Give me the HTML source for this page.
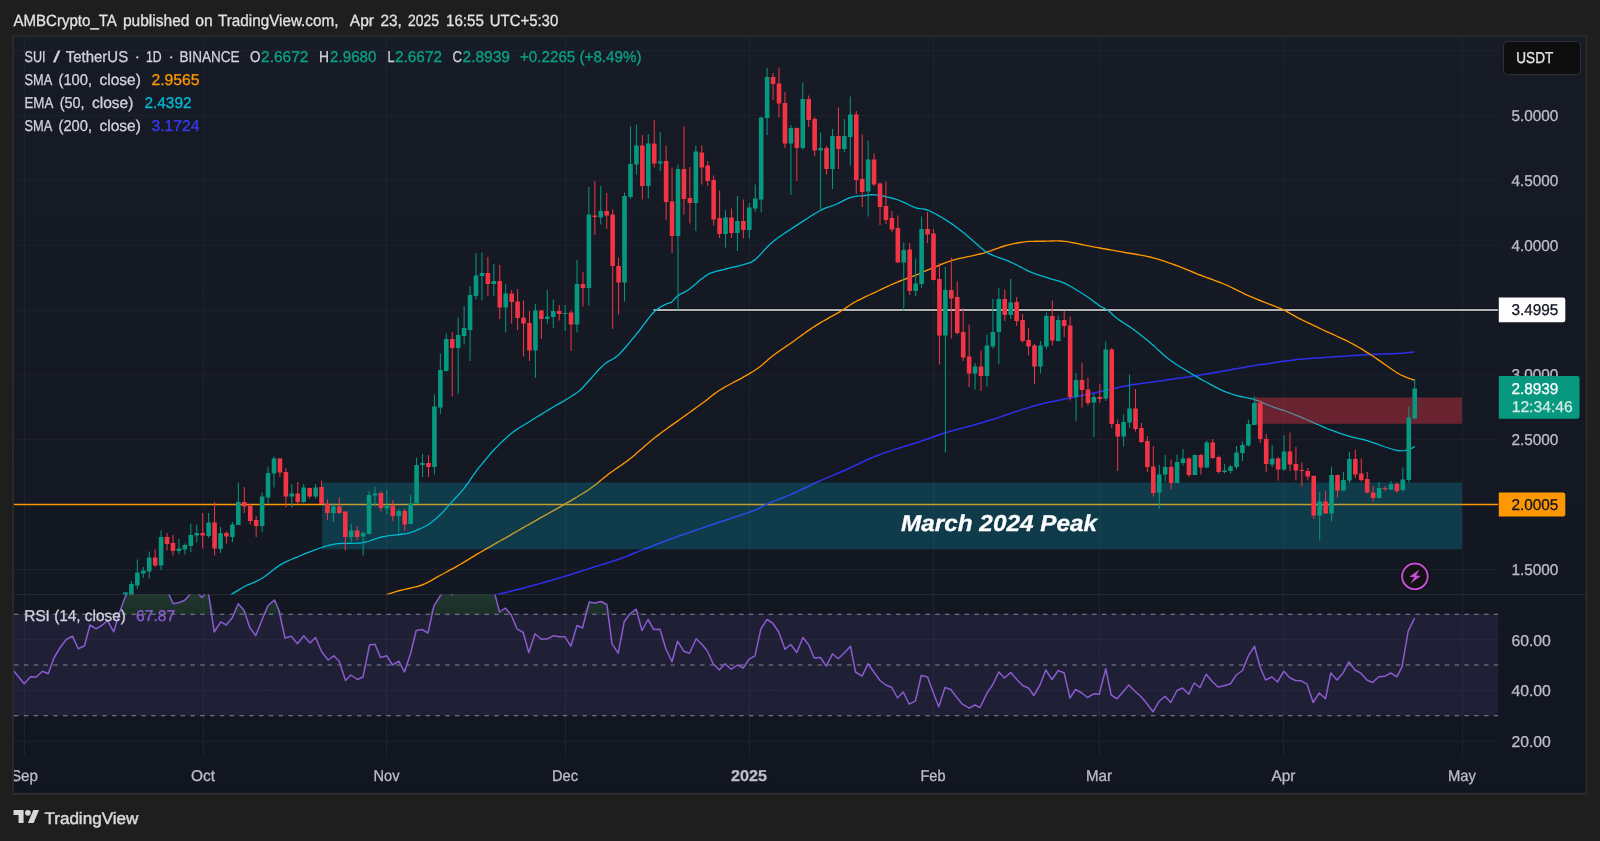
<!DOCTYPE html><html><head><meta charset="utf-8"><title>SUI chart</title><style>html,body{margin:0;padding:0;background:#1e1e1e}body{width:1600px;height:841px;overflow:hidden}</style></head><body><svg width="1600" height="841" viewBox="0 0 1600 841" style="display:block;font-family:'Liberation Sans',sans-serif">
<style>text{stroke-width:0.3px;paint-order:stroke;text-rendering:geometricPrecision;filter:url(#nf)}</style><defs><filter id="nf" x="-5%" y="-50%" width="110%" height="200%"><feOffset dx="0" dy="0"/></filter></defs>
<rect width="1600" height="841" fill="#1e1e1e"/>
<g opacity="0.999">
<defs><linearGradient id="bgg" x1="0" y1="0" x2="0" y2="1"><stop offset="0" stop-color="#181c27"/><stop offset="1" stop-color="#131722"/></linearGradient></defs>
<rect x="12.1" y="35.3" width="1575.3000000000002" height="759.7" fill="#2b2b2e"/>
<rect x="14" y="37.1" width="1571.6" height="755.6999999999999" fill="url(#bgg)"/>
<defs>
<clipPath id="cm"><rect x="14" y="37.1" width="1484" height="557.4"/></clipPath>
<clipPath id="cr"><rect x="14" y="594.5" width="1484" height="161.5"/></clipPath>
<linearGradient id="og" x1="0" y1="0" x2="0" y2="1"><stop offset="0" stop-color="#4caf50" stop-opacity="0.27"/><stop offset="1" stop-color="#4caf50" stop-opacity="0.15"/></linearGradient>
</defs>
<path d="M24.5 37.1V756.3M203.5 37.1V756.3M386.5 37.1V756.3M565.5 37.1V756.3M749.5 37.1V756.3M933.5 37.1V756.3M1099.5 37.1V756.3M1283.5 37.1V756.3M1462.5 37.1V756.3M14 50.5H1498M14 115.4H1498M14 180.3H1498M14 245.1H1498M14 310H1498M14 374.9H1498M14 439.7H1498M14 504.6H1498M14 569.5H1498M14 639.6H1498M14 690.4H1498M14 741.3H1498" stroke="#1f232f" stroke-width="1" fill="none"/>
<path d="M14 594.5H1585.6" stroke="#262a36" stroke-width="1"/>
<g clip-path="url(#cm)">
<path d="M14 504.5H1498" stroke="#ff9800" stroke-width="1.3"/>
<path d="M653.5 310H1498" stroke="#000" stroke-width="3" opacity="0.7"/>
<path d="M653.5 310H1498" stroke="#f0f0f0" stroke-width="1.5"/>
<polyline points="497.5,594.5 499.2,594.1 501.4,593.5 504.0,592.9 506.8,592.2 509.9,591.4 513.2,590.6 516.6,589.8 520.1,588.9 523.5,588.0 526.8,587.1 530.0,586.3 532.9,585.5 535.8,584.7 538.8,583.9 541.8,583.1 544.8,582.2 547.8,581.3 550.8,580.5 553.8,579.6 556.7,578.8 559.6,577.9 562.3,577.1 565.0,576.3 568.4,575.3 571.6,574.3 574.7,573.3 577.7,572.3 580.7,571.3 583.6,570.4 586.5,569.4 589.5,568.5 592.5,567.5 595.6,566.5 598.7,565.6 601.8,564.6 604.9,563.7 607.9,562.8 611.0,561.8 614.1,560.8 617.1,559.8 620.0,558.8 623.2,557.6 626.3,556.4 629.3,555.2 632.3,554.0 635.4,552.7 638.5,551.4 641.7,550.1 645.0,548.8 647.8,547.7 650.7,546.6 653.6,545.5 656.6,544.3 659.7,543.2 662.8,542.0 665.8,540.9 668.9,539.7 672.0,538.6 675.0,537.5 678.0,536.4 681.1,535.3 684.2,534.2 687.2,533.1 690.3,532.1 693.4,531.0 696.4,530.0 699.3,528.9 702.2,528.0 705.0,527.0 708.4,525.9 711.6,524.8 714.7,523.8 717.8,522.8 720.8,521.8 723.9,520.8 726.9,519.8 730.0,518.8 733.2,517.7 736.5,516.6 739.9,515.4 743.3,514.3 746.5,513.1 749.6,512.0 752.5,511.0 755.0,510.0 758.7,508.4 761.2,507.0 763.8,505.6 767.5,503.8 770.0,502.7 772.9,501.6 776.1,500.4 779.4,499.1 782.8,497.8 786.1,496.4 789.4,495.1 792.5,493.8 795.4,492.5 798.2,491.2 800.9,489.8 803.6,488.5 806.3,487.2 809.1,485.8 812.0,484.4 815.0,483.0 817.8,481.8 820.6,480.6 823.4,479.4 826.3,478.1 829.3,476.9 832.4,475.6 835.6,474.3 839.0,472.8 842.5,471.3 845.1,470.2 847.7,469.0 850.4,467.7 853.2,466.4 856.1,465.0 859.0,463.7 862.0,462.3 864.9,460.9 867.9,459.5 871.0,458.2 874.0,456.9 877.0,455.7 880.0,454.5 882.8,453.4 885.7,452.4 888.7,451.4 891.7,450.4 894.7,449.4 897.8,448.5 900.8,447.5 903.8,446.6 906.7,445.7 909.6,444.9 912.4,444.0 915.1,443.2 917.6,442.4 920.0,441.6 923.7,440.3 926.8,439.2 929.6,438.2 932.2,437.2 934.9,436.3 937.7,435.3 940.9,434.2 944.7,433.0 947.2,432.3 949.7,431.5 952.4,430.8 955.3,430.0 958.2,429.2 961.2,428.4 964.2,427.6 967.4,426.7 970.5,425.9 973.7,425.0 976.9,424.1 980.2,423.2 983.4,422.3 986.6,421.3 989.4,420.4 992.3,419.5 995.3,418.6 998.3,417.6 1001.3,416.6 1004.4,415.5 1007.5,414.5 1010.5,413.5 1013.6,412.4 1016.7,411.4 1019.7,410.4 1022.7,409.4 1025.6,408.5 1028.5,407.6 1031.3,406.8 1034.0,406.0 1037.5,405.0 1041.0,404.2 1044.4,403.3 1047.7,402.6 1051.0,401.8 1054.2,401.2 1057.3,400.5 1060.4,399.9 1063.4,399.3 1066.3,398.7 1069.2,398.1 1072.0,397.5 1075.6,396.7 1079.0,396.0 1082.3,395.3 1085.4,394.7 1088.5,394.0 1091.5,393.4 1094.5,392.8 1097.6,392.2 1100.7,391.5 1103.9,390.8 1107.0,390.1 1110.1,389.4 1113.3,388.6 1116.4,387.9 1119.5,387.2 1122.7,386.5 1125.8,385.9 1129.0,385.3 1132.1,384.8 1135.2,384.3 1138.3,383.9 1141.3,383.5 1144.4,383.1 1147.6,382.7 1150.8,382.2 1154.2,381.8 1157.8,381.3 1160.6,380.9 1163.6,380.5 1166.7,380.0 1169.8,379.6 1173.1,379.1 1176.3,378.6 1179.6,378.1 1182.8,377.7 1186.0,377.2 1189.1,376.7 1192.1,376.2 1195.0,375.8 1198.3,375.3 1201.5,374.8 1204.7,374.2 1207.8,373.7 1210.8,373.2 1213.7,372.7 1216.6,372.2 1219.4,371.8 1222.2,371.3 1225.0,370.8 1228.4,370.2 1231.6,369.6 1234.7,369.0 1237.8,368.5 1240.8,367.9 1243.9,367.4 1246.9,366.8 1250.0,366.3 1253.1,365.8 1256.2,365.3 1259.4,364.8 1262.5,364.3 1265.6,363.9 1268.8,363.4 1271.9,362.9 1275.0,362.5 1278.1,362.1 1281.2,361.6 1284.4,361.2 1287.5,360.8 1290.6,360.4 1293.8,360.0 1296.9,359.6 1300.0,359.3 1303.1,359.0 1306.2,358.7 1309.4,358.5 1312.5,358.3 1315.6,358.1 1318.8,357.9 1321.9,357.7 1325.0,357.5 1328.1,357.3 1331.2,357.1 1334.4,356.8 1337.5,356.6 1340.6,356.4 1343.8,356.2 1346.9,356.0 1350.0,355.8 1353.1,355.6 1356.2,355.4 1359.4,355.2 1362.5,355.0 1365.6,354.8 1368.8,354.6 1371.9,354.5 1375.0,354.3 1378.2,354.2 1381.5,354.0 1384.9,353.9 1388.2,353.8 1391.4,353.7 1394.5,353.6 1397.4,353.4 1400.0,353.3 1404.6,353.0 1408.5,352.6 1411.6,352.2 1413.8,352.0" fill="none" stroke="#3030f0" stroke-width="1.5" stroke-linejoin="round" stroke-linecap="round"/>
<polyline points="387.0,594.5 389.1,593.8 392.1,592.8 395.8,591.7 400.0,590.5 402.7,589.8 405.7,589.2 409.0,588.5 412.4,587.7 415.7,586.9 419.0,586.0 422.0,585.0 425.2,583.7 428.2,582.2 431.1,580.6 434.0,578.9 436.9,577.2 440.0,575.5 442.8,574.0 445.6,572.5 448.4,570.9 451.3,569.4 454.2,567.8 457.1,566.1 460.0,564.5 462.9,562.8 465.7,561.1 468.6,559.4 471.4,557.7 474.3,555.9 477.1,554.2 480.0,552.5 482.8,550.9 485.4,549.3 488.0,547.8 490.7,546.3 493.6,544.7 496.6,542.9 500.0,541.0 502.3,539.7 504.8,538.3 507.3,536.8 510.0,535.3 512.7,533.7 515.5,532.1 518.3,530.5 521.2,528.8 524.1,527.2 527.0,525.5 530.0,523.8 532.6,522.3 535.2,520.9 537.9,519.3 540.7,517.7 543.6,516.2 546.4,514.6 549.2,513.0 552.0,511.4 554.8,509.8 557.5,508.3 560.1,506.8 562.6,505.4 565.0,504.0 568.2,502.1 571.3,500.3 574.3,498.6 577.1,497.0 579.8,495.3 582.4,493.7 585.0,492.1 587.5,490.5 590.0,488.8 592.7,486.8 595.4,484.9 597.9,482.8 600.3,480.8 602.7,478.8 605.1,476.9 607.5,474.9 610.0,473.0 612.5,471.2 614.9,469.5 617.3,467.9 619.7,466.2 622.1,464.6 624.6,462.8 627.3,460.9 630.0,458.8 632.3,456.9 634.7,454.9 637.1,452.8 639.6,450.6 642.2,448.4 644.8,446.1 647.3,443.9 649.9,441.7 652.5,439.5 655.0,437.5 657.5,435.6 660.0,433.7 662.5,431.8 665.0,430.0 667.5,428.2 670.0,426.4 672.5,424.6 675.0,422.9 677.5,421.1 680.0,419.3 682.5,417.5 685.2,415.6 687.8,413.7 690.5,411.8 693.1,409.9 695.7,408.0 698.2,406.2 700.6,404.5 702.9,402.8 705.0,401.3 707.9,399.1 710.0,397.3 711.9,395.7 714.0,394.1 716.5,392.3 720.0,390.0 722.0,388.8 724.3,387.4 726.9,386.0 729.6,384.5 732.4,383.0 735.3,381.4 738.3,379.9 741.2,378.3 744.1,376.7 746.9,375.1 749.5,373.6 751.9,372.2 754.1,370.8 757.2,368.7 759.9,366.7 762.4,364.7 764.6,362.8 766.7,360.9 768.8,359.1 770.9,357.3 773.2,355.5 775.9,353.5 778.5,351.6 781.2,349.8 783.8,348.0 786.5,346.1 789.3,344.2 792.2,342.2 794.6,340.5 797.0,338.8 799.4,337.0 802.0,335.1 804.5,333.3 807.1,331.4 809.7,329.6 812.4,327.8 815.0,326.1 817.7,324.4 820.5,322.7 823.4,321.0 826.4,319.4 829.3,317.7 832.1,316.2 834.8,314.6 837.4,313.2 839.7,311.8 842.7,309.9 845.2,308.2 847.5,306.7 849.7,305.2 852.1,303.7 855.0,302.0 857.5,300.7 860.3,299.3 863.2,297.9 866.2,296.4 869.2,295.0 872.2,293.6 875.1,292.3 877.8,291.0 881.2,289.4 884.4,287.9 887.5,286.4 890.6,285.0 893.7,283.6 896.8,282.3 900.1,281.0 903.5,279.7 906.9,278.5 910.1,277.3 913.2,276.2 915.8,275.2 919.1,273.8 921.4,272.6 925.6,270.8 927.8,269.9 930.5,268.8 933.4,267.6 936.6,266.3 939.8,265.0 943.1,263.7 946.3,262.4 949.4,261.3 952.2,260.4 955.6,259.4 958.8,258.6 962.0,257.9 965.0,257.3 967.9,256.7 970.7,256.2 973.2,255.6 976.9,254.7 979.9,254.0 982.8,253.3 986.5,252.2 989.1,251.3 992.0,250.3 995.0,249.2 998.2,248.1 1001.3,247.0 1004.4,246.0 1007.4,245.1 1010.7,244.3 1013.9,243.6 1017.0,243.0 1020.2,242.5 1023.3,242.1 1026.4,241.7 1029.5,241.4 1032.6,241.3 1035.7,241.2 1038.7,241.2 1041.9,241.2 1045.0,241.2 1048.2,241.1 1051.3,241.0 1054.5,240.9 1057.7,240.9 1061.0,241.0 1064.5,241.3 1067.7,241.7 1071.1,242.3 1074.6,243.0 1078.1,243.7 1081.4,244.5 1084.5,245.1 1087.3,245.7 1090.9,246.4 1093.5,246.8 1096.2,247.3 1100.0,248.0 1102.5,248.5 1105.4,249.0 1108.5,249.5 1111.7,250.1 1115.1,250.7 1118.5,251.3 1121.8,251.9 1125.0,252.5 1128.1,253.0 1131.2,253.5 1134.4,254.0 1137.5,254.5 1140.6,255.1 1143.8,255.6 1146.9,256.3 1150.0,257.0 1153.1,257.8 1156.2,258.7 1159.4,259.7 1162.5,260.7 1165.6,261.7 1168.8,262.8 1171.9,263.9 1175.0,265.0 1178.1,266.2 1181.2,267.4 1184.4,268.6 1187.5,269.9 1190.6,271.2 1193.8,272.5 1196.9,273.8 1200.0,275.0 1203.1,276.2 1206.2,277.4 1209.4,278.5 1212.5,279.6 1215.6,280.8 1218.8,282.0 1221.9,283.2 1225.0,284.5 1227.8,285.7 1230.6,287.0 1233.3,288.3 1236.1,289.7 1238.9,291.1 1241.7,292.4 1244.4,293.8 1247.2,295.1 1250.0,296.3 1253.2,297.7 1256.6,299.1 1260.1,300.5 1263.5,301.8 1266.8,303.1 1269.9,304.3 1272.7,305.4 1275.0,306.3 1278.9,307.8 1280.9,308.6 1283.8,310.0 1286.0,311.1 1288.3,312.4 1290.9,313.9 1293.7,315.4 1296.7,317.1 1300.0,318.8 1302.4,320.0 1305.0,321.3 1307.7,322.6 1310.5,323.9 1313.4,325.3 1316.3,326.7 1319.3,328.1 1322.2,329.5 1325.0,330.8 1327.8,332.1 1330.7,333.4 1333.5,334.7 1336.4,336.0 1339.2,337.3 1342.0,338.6 1344.8,339.9 1347.4,341.2 1350.0,342.5 1353.1,344.2 1356.2,345.9 1359.1,347.5 1361.9,349.2 1364.6,350.9 1367.3,352.6 1370.0,354.3 1372.7,356.0 1375.3,357.8 1377.9,359.6 1380.5,361.4 1382.9,363.1 1385.3,364.8 1387.5,366.3 1390.9,368.7 1394.0,370.8 1396.9,372.7 1400.0,374.5 1403.7,376.2 1407.7,377.8 1411.3,379.1 1413.8,380.0" fill="none" stroke="#ff9800" stroke-width="1.35" stroke-linejoin="round" stroke-linecap="round"/>
<polyline points="231.3,594.5 233.0,593.4 235.5,591.9 238.4,590.1 241.5,588.2 244.6,586.5 247.2,585.2 249.9,584.1 252.8,582.9 255.7,581.6 258.7,580.2 261.7,578.5 264.3,576.8 267.0,574.8 269.7,572.7 272.5,570.5 275.2,568.4 278.0,566.4 280.7,564.6 283.8,562.9 286.9,561.3 290.0,560.0 293.2,558.7 296.4,557.4 299.7,556.0 302.7,554.7 305.9,553.4 309.2,552.1 312.5,550.8 315.7,549.6 318.7,548.5 321.6,547.5 325.1,546.4 328.1,545.5 331.0,544.8 334.1,544.2 337.8,543.7 340.5,543.5 343.5,543.4 346.7,543.3 350.0,543.3 353.3,543.3 356.5,543.2 359.6,543.0 362.5,542.7 366.0,542.0 369.3,541.0 372.4,539.9 375.5,538.8 378.5,537.8 381.5,537.0 385.2,536.3 388.9,535.7 392.5,535.3 395.9,534.9 399.0,534.5 403.0,534.0 406.4,533.6 410.4,532.6 413.0,531.7 415.8,530.6 418.9,529.4 421.9,528.0 424.9,526.5 427.6,525.0 430.6,523.0 433.4,520.8 436.1,518.5 438.6,516.2 440.9,514.1 443.2,511.8 445.1,509.7 447.0,507.4 449.4,504.6 451.2,502.7 453.1,500.6 455.3,498.3 457.5,495.9 459.7,493.5 461.8,491.1 463.7,488.8 465.8,486.0 468.0,483.1 470.0,480.2 471.9,477.4 473.6,474.9 475.1,472.8 477.3,469.6 480.0,466.3 481.6,464.4 483.5,462.1 485.6,459.5 487.9,456.8 490.2,454.0 492.6,451.3 495.0,448.8 497.4,446.4 499.8,443.9 502.3,441.5 504.9,439.1 507.4,436.8 510.0,434.6 512.5,432.5 515.4,430.4 518.2,428.5 521.0,426.7 523.9,425.0 526.9,423.2 530.0,421.3 532.5,419.7 535.2,418.0 538.0,416.3 540.8,414.6 543.6,412.8 546.3,411.2 548.9,409.6 551.2,408.2 554.5,406.3 557.4,404.6 560.1,403.1 562.8,401.6 565.5,400.0 568.4,398.2 571.4,396.3 574.4,394.4 577.2,392.5 579.7,390.5 582.3,388.1 584.4,385.8 586.6,383.3 589.3,380.3 591.2,378.2 593.3,375.9 595.5,373.4 597.8,370.8 600.1,368.3 602.4,366.1 604.5,364.1 607.2,362.1 609.7,360.7 612.2,359.5 614.8,357.9 617.8,355.5 619.7,353.7 621.7,351.5 623.8,349.2 626.0,346.7 628.2,344.1 630.4,341.4 632.6,338.7 634.8,336.2 636.8,333.7 639.0,331.0 641.2,328.1 643.4,325.2 645.5,322.4 647.5,319.6 649.5,317.1 651.5,314.7 653.3,312.7 656.1,310.1 658.9,308.1 661.4,306.5 663.7,305.3 665.7,304.2 668.9,303.1 671.4,302.3 673.4,300.4 675.4,298.0 678.0,295.6 680.4,294.1 683.0,292.8 686.1,291.2 689.5,289.0 691.7,287.3 694.2,285.2 696.8,283.0 699.4,280.6 702.2,278.4 704.9,276.4 707.5,274.7 710.5,273.2 713.6,272.1 716.6,271.2 719.6,270.5 722.6,269.8 725.6,269.0 729.2,268.1 732.8,267.2 736.3,266.5 739.6,265.7 742.7,264.8 745.9,263.9 748.6,263.2 751.4,262.1 754.7,259.9 756.7,258.2 758.7,256.2 760.9,253.9 763.2,251.4 765.5,248.9 768.0,246.3 770.6,243.8 773.2,241.5 775.7,239.5 778.3,237.6 781.0,235.7 783.8,233.7 786.7,231.9 789.5,230.0 792.3,228.2 795.1,226.4 797.8,224.6 800.8,222.6 803.8,220.6 806.8,218.7 809.8,216.8 812.7,214.9 815.5,213.2 818.1,211.7 820.6,210.3 824.1,208.6 827.3,207.4 830.1,206.5 832.9,205.6 835.8,204.5 838.7,203.1 841.7,201.6 844.5,200.1 847.4,198.7 850.3,197.6 854.0,196.7 857.6,196.2 861.2,195.8 864.6,195.5 868.4,195.0 871.9,194.7 876.0,194.8 879.2,195.3 882.9,196.0 886.7,196.8 890.3,197.7 893.3,198.5 896.8,199.5 899.5,200.5 902.6,201.8 905.7,203.2 909.2,205.0 912.8,206.7 916.1,208.0 919.8,208.7 923.2,208.9 927.5,210.0 929.8,211.0 932.4,212.3 935.2,213.8 938.1,215.4 941.0,217.0 943.8,218.7 946.5,220.4 949.0,222.0 951.4,223.6 953.8,225.3 956.1,227.0 958.5,228.8 961.0,230.7 963.6,232.8 965.8,234.6 968.2,236.7 970.7,238.8 973.2,241.1 975.7,243.3 978.2,245.5 980.5,247.5 982.7,249.3 984.6,250.8 988.0,253.1 990.7,254.4 993.1,255.4 996.0,256.5 998.7,257.6 1001.6,258.6 1004.7,259.7 1007.9,260.9 1011.2,262.3 1013.7,263.5 1016.4,264.8 1019.1,266.3 1021.9,267.7 1024.7,269.2 1027.5,270.6 1030.2,271.8 1033.4,273.1 1036.7,274.3 1039.9,275.4 1043.1,276.4 1046.2,277.4 1049.2,278.4 1052.4,279.4 1055.3,280.1 1058.2,280.8 1061.1,281.8 1064.5,283.2 1066.9,284.4 1069.5,285.8 1072.2,287.3 1075.0,289.0 1077.7,290.7 1080.4,292.3 1083.0,294.0 1085.4,295.5 1088.4,297.5 1091.2,299.5 1093.9,301.6 1096.4,303.4 1098.7,305.1 1100.7,306.5 1104.4,308.4 1107.5,310.0 1109.7,311.8 1112.0,314.0 1114.6,316.4 1117.5,318.8 1119.7,320.4 1122.0,321.9 1124.5,323.5 1127.1,325.1 1129.8,326.9 1132.5,328.8 1134.8,330.5 1137.2,332.3 1139.7,334.2 1142.2,336.2 1144.7,338.2 1147.3,340.3 1150.0,342.5 1152.3,344.5 1154.7,346.6 1157.1,348.9 1159.5,351.1 1162.0,353.4 1164.6,355.7 1167.2,357.9 1170.0,360.0 1172.6,361.8 1175.2,363.7 1178.0,365.5 1180.8,367.3 1183.6,369.0 1186.5,370.8 1189.3,372.5 1192.2,374.2 1195.0,375.8 1197.8,377.4 1200.7,379.1 1203.6,380.7 1206.6,382.3 1209.4,383.9 1212.3,385.4 1215.0,386.8 1217.6,388.1 1220.0,389.3 1223.3,390.8 1226.3,392.1 1229.0,393.1 1231.6,394.0 1234.3,394.9 1237.0,395.7 1240.4,396.5 1243.8,397.2 1247.2,397.8 1250.6,398.4 1254.0,399.3 1256.8,400.3 1259.7,401.4 1262.5,402.6 1265.3,403.8 1268.2,405.0 1271.2,406.2 1274.2,407.3 1277.2,408.3 1280.2,409.3 1283.4,410.3 1286.7,411.5 1290.2,412.8 1293.1,414.0 1296.3,415.3 1299.6,416.7 1303.0,418.1 1306.3,419.5 1309.5,420.9 1312.4,422.2 1315.0,423.3 1319.0,425.0 1322.0,426.4 1324.8,427.6 1328.3,429.0 1331.1,430.1 1334.2,431.2 1337.4,432.4 1340.8,433.6 1344.1,434.7 1347.3,435.7 1350.5,436.6 1353.6,437.3 1356.8,438.1 1360.0,438.8 1363.1,439.5 1366.3,440.4 1369.5,441.4 1372.8,442.6 1376.1,443.7 1379.3,444.9 1382.4,446.0 1385.3,447.0 1388.6,448.0 1391.8,449.0 1394.8,449.9 1397.5,450.5 1400.0,450.9 1405.0,450.6 1408.8,449.5 1412.2,448.1 1414.5,446.8" fill="none" stroke="#00bcd4" stroke-width="1.3" stroke-linejoin="round" stroke-linecap="round"/>
<rect x="322" y="482.5" width="1140" height="66.79999999999995" fill="#00bcd4" fill-opacity="0.22"/>
<rect x="1255" y="397.5" width="207" height="26.30000000000001" fill="#f23645" fill-opacity="0.39"/>
<rect x="124.95" y="592.0" width="1" height="4.0" fill="#089981"/>
<rect x="123.15" y="592.5" width="4.6" height="3.5" fill="#089981"/>
<rect x="130.90" y="581.0" width="1" height="15.0" fill="#089981"/>
<rect x="129.10" y="584.0" width="4.6" height="12.0" fill="#089981"/>
<rect x="136.84" y="559.5" width="1" height="29.5" fill="#089981"/>
<rect x="135.04" y="572.5" width="4.6" height="13.0" fill="#089981"/>
<rect x="142.78" y="567.0" width="1" height="11.0" fill="#089981"/>
<rect x="140.98" y="570.5" width="4.6" height="3.0" fill="#089981"/>
<rect x="148.72" y="551.5" width="1" height="27.0" fill="#089981"/>
<rect x="146.92" y="557.5" width="4.6" height="14.0" fill="#089981"/>
<rect x="154.66" y="549.5" width="1" height="17.5" fill="#f23645"/>
<rect x="152.86" y="557.5" width="4.6" height="8.0" fill="#f23645"/>
<rect x="160.60" y="530.5" width="1" height="39.5" fill="#089981"/>
<rect x="158.80" y="537.0" width="4.6" height="28.5" fill="#089981"/>
<rect x="166.54" y="533.0" width="1" height="17.5" fill="#f23645"/>
<rect x="164.74" y="537.0" width="4.6" height="7.0" fill="#f23645"/>
<rect x="172.48" y="535.0" width="1" height="20.5" fill="#f23645"/>
<rect x="170.68" y="543.0" width="4.6" height="8.0" fill="#f23645"/>
<rect x="178.43" y="539.0" width="1" height="15.0" fill="#089981"/>
<rect x="176.63" y="548.5" width="4.6" height="2.5" fill="#089981"/>
<rect x="184.37" y="543.5" width="1" height="11.0" fill="#089981"/>
<rect x="182.57" y="545.0" width="4.6" height="4.5" fill="#089981"/>
<rect x="190.31" y="523.5" width="1" height="28.5" fill="#089981"/>
<rect x="188.51" y="535.0" width="4.6" height="11.0" fill="#089981"/>
<rect x="196.25" y="524.5" width="1" height="18.0" fill="#089981"/>
<rect x="194.45" y="533.0" width="4.6" height="2.5" fill="#089981"/>
<rect x="202.19" y="513.0" width="1" height="35.5" fill="#f23645"/>
<rect x="200.39" y="533.0" width="4.6" height="2.5" fill="#f23645"/>
<rect x="208.13" y="513.0" width="1" height="25.0" fill="#089981"/>
<rect x="206.33" y="522.5" width="4.6" height="13.5" fill="#089981"/>
<rect x="214.07" y="502.0" width="1" height="53.5" fill="#f23645"/>
<rect x="212.27" y="522.5" width="4.6" height="26.0" fill="#f23645"/>
<rect x="220.02" y="527.0" width="1" height="26.0" fill="#089981"/>
<rect x="218.22" y="533.0" width="4.6" height="16.0" fill="#089981"/>
<rect x="225.96" y="531.5" width="1" height="12.0" fill="#f23645"/>
<rect x="224.16" y="533.0" width="4.6" height="3.5" fill="#f23645"/>
<rect x="231.90" y="522.0" width="1" height="20.0" fill="#089981"/>
<rect x="230.10" y="524.5" width="4.6" height="12.5" fill="#089981"/>
<rect x="237.84" y="482.5" width="1" height="42.5" fill="#089981"/>
<rect x="236.04" y="502.0" width="4.6" height="23.0" fill="#089981"/>
<rect x="243.78" y="487.0" width="1" height="26.0" fill="#f23645"/>
<rect x="241.98" y="502.0" width="4.6" height="4.5" fill="#f23645"/>
<rect x="249.72" y="503.5" width="1" height="21.0" fill="#f23645"/>
<rect x="247.92" y="505.5" width="4.6" height="15.5" fill="#f23645"/>
<rect x="255.66" y="516.0" width="1" height="21.0" fill="#f23645"/>
<rect x="253.86" y="520.0" width="4.6" height="6.0" fill="#f23645"/>
<rect x="261.61" y="492.5" width="1" height="39.5" fill="#089981"/>
<rect x="259.81" y="496.5" width="4.6" height="29.5" fill="#089981"/>
<rect x="267.55" y="466.5" width="1" height="37.0" fill="#089981"/>
<rect x="265.75" y="473.0" width="4.6" height="24.5" fill="#089981"/>
<rect x="273.49" y="456.5" width="1" height="31.0" fill="#089981"/>
<rect x="271.69" y="458.5" width="4.6" height="15.0" fill="#089981"/>
<rect x="279.43" y="458.0" width="1" height="19.0" fill="#f23645"/>
<rect x="277.63" y="458.5" width="4.6" height="14.0" fill="#f23645"/>
<rect x="285.37" y="468.0" width="1" height="39.5" fill="#f23645"/>
<rect x="283.57" y="472.0" width="4.6" height="24.5" fill="#f23645"/>
<rect x="291.31" y="484.0" width="1" height="23.5" fill="#089981"/>
<rect x="289.51" y="493.5" width="4.6" height="3.0" fill="#089981"/>
<rect x="297.25" y="482.0" width="1" height="22.5" fill="#f23645"/>
<rect x="295.45" y="493.5" width="4.6" height="8.5" fill="#f23645"/>
<rect x="303.20" y="484.0" width="1" height="19.0" fill="#089981"/>
<rect x="301.40" y="487.5" width="4.6" height="14.5" fill="#089981"/>
<rect x="309.14" y="487.5" width="1" height="11.0" fill="#f23645"/>
<rect x="307.34" y="488.0" width="4.6" height="8.5" fill="#f23645"/>
<rect x="315.08" y="484.0" width="1" height="14.5" fill="#089981"/>
<rect x="313.28" y="487.5" width="4.6" height="9.0" fill="#089981"/>
<rect x="321.02" y="480.5" width="1" height="23.5" fill="#f23645"/>
<rect x="319.22" y="487.0" width="4.6" height="17.0" fill="#f23645"/>
<rect x="326.96" y="499.5" width="1" height="20.5" fill="#f23645"/>
<rect x="325.16" y="503.5" width="4.6" height="9.5" fill="#f23645"/>
<rect x="332.90" y="503.5" width="1" height="18.5" fill="#089981"/>
<rect x="331.10" y="506.5" width="4.6" height="6.5" fill="#089981"/>
<rect x="338.84" y="497.5" width="1" height="16.5" fill="#f23645"/>
<rect x="337.04" y="506.5" width="4.6" height="6.5" fill="#f23645"/>
<rect x="344.79" y="511.5" width="1" height="39.0" fill="#f23645"/>
<rect x="342.99" y="511.5" width="4.6" height="25.5" fill="#f23645"/>
<rect x="350.73" y="523.5" width="1" height="19.0" fill="#089981"/>
<rect x="348.93" y="530.5" width="4.6" height="6.5" fill="#089981"/>
<rect x="356.67" y="526.0" width="1" height="14.0" fill="#f23645"/>
<rect x="354.87" y="530.5" width="4.6" height="6.5" fill="#f23645"/>
<rect x="362.61" y="531.5" width="1" height="24.0" fill="#089981"/>
<rect x="360.81" y="533.0" width="4.6" height="3.5" fill="#089981"/>
<rect x="368.55" y="491.0" width="1" height="43.0" fill="#089981"/>
<rect x="366.75" y="495.0" width="4.6" height="39.0" fill="#089981"/>
<rect x="374.49" y="486.5" width="1" height="20.0" fill="#089981"/>
<rect x="372.69" y="493.5" width="4.6" height="2.0" fill="#089981"/>
<rect x="380.43" y="491.5" width="1" height="20.0" fill="#f23645"/>
<rect x="378.63" y="493.0" width="4.6" height="15.0" fill="#f23645"/>
<rect x="386.38" y="490.0" width="1" height="24.5" fill="#089981"/>
<rect x="384.58" y="505.5" width="4.6" height="3.0" fill="#089981"/>
<rect x="392.32" y="500.0" width="1" height="21.0" fill="#f23645"/>
<rect x="390.52" y="505.5" width="4.6" height="10.5" fill="#f23645"/>
<rect x="398.26" y="508.5" width="1" height="24.0" fill="#089981"/>
<rect x="396.46" y="511.0" width="4.6" height="5.0" fill="#089981"/>
<rect x="404.20" y="508.5" width="1" height="22.5" fill="#f23645"/>
<rect x="402.40" y="511.0" width="4.6" height="13.5" fill="#f23645"/>
<rect x="410.14" y="495.0" width="1" height="29.0" fill="#089981"/>
<rect x="408.34" y="503.5" width="4.6" height="20.5" fill="#089981"/>
<rect x="416.08" y="457.5" width="1" height="46.0" fill="#089981"/>
<rect x="414.28" y="465.0" width="4.6" height="38.5" fill="#089981"/>
<rect x="422.02" y="454.0" width="1" height="23.0" fill="#089981"/>
<rect x="420.22" y="463.0" width="4.6" height="2.0" fill="#089981"/>
<rect x="427.97" y="455.0" width="1" height="22.0" fill="#f23645"/>
<rect x="426.17" y="463.0" width="4.6" height="4.0" fill="#f23645"/>
<rect x="433.91" y="394.5" width="1" height="80.0" fill="#089981"/>
<rect x="432.11" y="406.5" width="4.6" height="60.5" fill="#089981"/>
<rect x="439.85" y="353.5" width="1" height="60.5" fill="#089981"/>
<rect x="438.05" y="370.0" width="4.6" height="37.5" fill="#089981"/>
<rect x="445.79" y="333.5" width="1" height="38.0" fill="#089981"/>
<rect x="443.99" y="339.0" width="4.6" height="32.0" fill="#089981"/>
<rect x="451.73" y="332.0" width="1" height="64.5" fill="#f23645"/>
<rect x="449.93" y="339.0" width="4.6" height="9.0" fill="#f23645"/>
<rect x="457.67" y="317.5" width="1" height="76.5" fill="#089981"/>
<rect x="455.87" y="335.0" width="4.6" height="13.0" fill="#089981"/>
<rect x="463.61" y="306.0" width="1" height="38.5" fill="#089981"/>
<rect x="461.81" y="328.0" width="4.6" height="8.0" fill="#089981"/>
<rect x="469.55" y="286.0" width="1" height="75.0" fill="#089981"/>
<rect x="467.75" y="295.0" width="4.6" height="35.0" fill="#089981"/>
<rect x="475.50" y="253.0" width="1" height="46.5" fill="#089981"/>
<rect x="473.70" y="275.5" width="4.6" height="20.5" fill="#089981"/>
<rect x="481.44" y="252.5" width="1" height="48.0" fill="#089981"/>
<rect x="479.64" y="273.0" width="4.6" height="3.0" fill="#089981"/>
<rect x="487.38" y="257.0" width="1" height="39.0" fill="#f23645"/>
<rect x="485.58" y="273.0" width="4.6" height="11.0" fill="#f23645"/>
<rect x="493.32" y="264.0" width="1" height="32.0" fill="#089981"/>
<rect x="491.52" y="281.0" width="4.6" height="3.0" fill="#089981"/>
<rect x="499.26" y="265.0" width="1" height="54.0" fill="#f23645"/>
<rect x="497.46" y="281.0" width="4.6" height="26.5" fill="#f23645"/>
<rect x="505.20" y="284.0" width="1" height="48.5" fill="#089981"/>
<rect x="503.40" y="293.5" width="4.6" height="14.0" fill="#089981"/>
<rect x="511.14" y="290.0" width="1" height="33.5" fill="#f23645"/>
<rect x="509.34" y="293.5" width="4.6" height="8.5" fill="#f23645"/>
<rect x="517.09" y="289.0" width="1" height="41.0" fill="#f23645"/>
<rect x="515.29" y="301.5" width="4.6" height="16.5" fill="#f23645"/>
<rect x="523.03" y="300.5" width="1" height="56.0" fill="#f23645"/>
<rect x="521.23" y="317.5" width="4.6" height="6.0" fill="#f23645"/>
<rect x="528.97" y="311.0" width="1" height="50.0" fill="#f23645"/>
<rect x="527.17" y="323.0" width="4.6" height="27.5" fill="#f23645"/>
<rect x="534.91" y="304.0" width="1" height="74.0" fill="#089981"/>
<rect x="533.11" y="310.5" width="4.6" height="40.0" fill="#089981"/>
<rect x="540.85" y="310.0" width="1" height="29.0" fill="#f23645"/>
<rect x="539.05" y="310.5" width="4.6" height="8.5" fill="#f23645"/>
<rect x="546.79" y="290.0" width="1" height="33.5" fill="#089981"/>
<rect x="544.99" y="316.5" width="4.6" height="2.5" fill="#089981"/>
<rect x="552.73" y="299.5" width="1" height="28.5" fill="#089981"/>
<rect x="550.93" y="311.0" width="4.6" height="6.0" fill="#089981"/>
<rect x="558.68" y="305.0" width="1" height="15.5" fill="#f23645"/>
<rect x="556.88" y="311.0" width="4.6" height="3.0" fill="#f23645"/>
<rect x="564.62" y="305.0" width="1" height="26.0" fill="#089981"/>
<rect x="562.82" y="313.0" width="4.6" height="1.0" fill="#089981"/>
<rect x="570.56" y="310.5" width="1" height="40.5" fill="#f23645"/>
<rect x="568.76" y="312.5" width="4.6" height="12.0" fill="#f23645"/>
<rect x="576.50" y="260.0" width="1" height="72.5" fill="#089981"/>
<rect x="574.70" y="284.0" width="4.6" height="40.5" fill="#089981"/>
<rect x="582.44" y="272.0" width="1" height="34.5" fill="#f23645"/>
<rect x="580.64" y="284.0" width="4.6" height="4.0" fill="#f23645"/>
<rect x="588.38" y="187.0" width="1" height="118.5" fill="#089981"/>
<rect x="586.58" y="214.5" width="4.6" height="73.5" fill="#089981"/>
<rect x="594.32" y="181.0" width="1" height="54.0" fill="#f23645"/>
<rect x="592.52" y="215.5" width="4.6" height="1.5" fill="#f23645"/>
<rect x="600.27" y="186.0" width="1" height="38.5" fill="#089981"/>
<rect x="598.47" y="211.0" width="4.6" height="6.5" fill="#089981"/>
<rect x="606.21" y="193.0" width="1" height="36.0" fill="#f23645"/>
<rect x="604.41" y="211.0" width="4.6" height="4.5" fill="#f23645"/>
<rect x="612.15" y="209.5" width="1" height="119.5" fill="#f23645"/>
<rect x="610.35" y="214.5" width="4.6" height="51.5" fill="#f23645"/>
<rect x="618.09" y="257.5" width="1" height="57.0" fill="#f23645"/>
<rect x="616.29" y="266.0" width="4.6" height="16.5" fill="#f23645"/>
<rect x="624.03" y="192.5" width="1" height="109.0" fill="#089981"/>
<rect x="622.23" y="196.0" width="4.6" height="86.5" fill="#089981"/>
<rect x="629.97" y="126.5" width="1" height="72.5" fill="#089981"/>
<rect x="628.17" y="164.0" width="4.6" height="33.0" fill="#089981"/>
<rect x="635.91" y="124.5" width="1" height="50.0" fill="#089981"/>
<rect x="634.11" y="145.5" width="4.6" height="19.0" fill="#089981"/>
<rect x="641.86" y="135.0" width="1" height="64.5" fill="#f23645"/>
<rect x="640.06" y="145.5" width="4.6" height="40.5" fill="#f23645"/>
<rect x="647.80" y="134.0" width="1" height="64.5" fill="#089981"/>
<rect x="646.00" y="143.5" width="4.6" height="42.5" fill="#089981"/>
<rect x="653.74" y="120.0" width="1" height="47.5" fill="#f23645"/>
<rect x="651.94" y="143.5" width="4.6" height="20.0" fill="#f23645"/>
<rect x="659.68" y="132.0" width="1" height="39.0" fill="#089981"/>
<rect x="657.88" y="161.5" width="4.6" height="2.0" fill="#089981"/>
<rect x="665.62" y="145.5" width="1" height="74.5" fill="#f23645"/>
<rect x="663.82" y="161.0" width="4.6" height="41.0" fill="#f23645"/>
<rect x="671.56" y="167.5" width="1" height="85.5" fill="#f23645"/>
<rect x="669.76" y="201.5" width="4.6" height="34.5" fill="#f23645"/>
<rect x="677.50" y="164.5" width="1" height="145.5" fill="#089981"/>
<rect x="675.70" y="169.0" width="4.6" height="67.0" fill="#089981"/>
<rect x="683.45" y="126.5" width="1" height="88.0" fill="#f23645"/>
<rect x="681.65" y="169.0" width="4.6" height="30.0" fill="#f23645"/>
<rect x="689.39" y="167.0" width="1" height="56.5" fill="#f23645"/>
<rect x="687.59" y="198.0" width="4.6" height="5.0" fill="#f23645"/>
<rect x="695.33" y="145.5" width="1" height="85.5" fill="#089981"/>
<rect x="693.53" y="151.5" width="4.6" height="51.5" fill="#089981"/>
<rect x="701.27" y="145.5" width="1" height="39.0" fill="#f23645"/>
<rect x="699.47" y="152.5" width="4.6" height="15.0" fill="#f23645"/>
<rect x="707.21" y="161.0" width="1" height="25.0" fill="#f23645"/>
<rect x="705.41" y="165.5" width="4.6" height="15.5" fill="#f23645"/>
<rect x="713.15" y="175.5" width="1" height="50.0" fill="#f23645"/>
<rect x="711.35" y="180.0" width="4.6" height="39.5" fill="#f23645"/>
<rect x="719.09" y="190.5" width="1" height="47.5" fill="#f23645"/>
<rect x="717.29" y="218.0" width="4.6" height="16.0" fill="#f23645"/>
<rect x="725.04" y="210.0" width="1" height="37.5" fill="#089981"/>
<rect x="723.24" y="217.5" width="4.6" height="16.5" fill="#089981"/>
<rect x="730.98" y="208.5" width="1" height="29.5" fill="#f23645"/>
<rect x="729.18" y="217.5" width="4.6" height="15.5" fill="#f23645"/>
<rect x="736.92" y="196.0" width="1" height="55.0" fill="#089981"/>
<rect x="735.12" y="221.0" width="4.6" height="12.0" fill="#089981"/>
<rect x="742.86" y="199.5" width="1" height="39.0" fill="#f23645"/>
<rect x="741.06" y="221.0" width="4.6" height="9.0" fill="#f23645"/>
<rect x="748.80" y="203.0" width="1" height="35.5" fill="#089981"/>
<rect x="747.00" y="207.5" width="4.6" height="22.5" fill="#089981"/>
<rect x="754.74" y="184.5" width="1" height="27.0" fill="#089981"/>
<rect x="752.94" y="198.5" width="4.6" height="10.0" fill="#089981"/>
<rect x="760.68" y="116.5" width="1" height="96.0" fill="#089981"/>
<rect x="758.88" y="117.5" width="4.6" height="82.0" fill="#089981"/>
<rect x="766.62" y="68.0" width="1" height="67.0" fill="#089981"/>
<rect x="764.83" y="77.0" width="4.6" height="41.0" fill="#089981"/>
<rect x="772.57" y="73.0" width="1" height="27.0" fill="#f23645"/>
<rect x="770.77" y="77.0" width="4.6" height="7.0" fill="#f23645"/>
<rect x="778.51" y="67.5" width="1" height="50.0" fill="#f23645"/>
<rect x="776.71" y="83.5" width="4.6" height="20.0" fill="#f23645"/>
<rect x="784.45" y="92.0" width="1" height="56.0" fill="#f23645"/>
<rect x="782.65" y="103.0" width="4.6" height="40.5" fill="#f23645"/>
<rect x="790.39" y="125.0" width="1" height="70.0" fill="#089981"/>
<rect x="788.59" y="128.0" width="4.6" height="15.5" fill="#089981"/>
<rect x="796.33" y="127.5" width="1" height="53.5" fill="#f23645"/>
<rect x="794.53" y="128.0" width="4.6" height="20.0" fill="#f23645"/>
<rect x="802.27" y="82.5" width="1" height="67.0" fill="#089981"/>
<rect x="800.47" y="99.0" width="4.6" height="49.0" fill="#089981"/>
<rect x="808.21" y="95.5" width="1" height="31.5" fill="#f23645"/>
<rect x="806.41" y="99.0" width="4.6" height="21.0" fill="#f23645"/>
<rect x="814.16" y="117.0" width="1" height="39.0" fill="#f23645"/>
<rect x="812.36" y="119.0" width="4.6" height="31.5" fill="#f23645"/>
<rect x="820.10" y="132.5" width="1" height="77.0" fill="#089981"/>
<rect x="818.30" y="148.0" width="4.6" height="2.5" fill="#089981"/>
<rect x="826.04" y="146.0" width="1" height="28.5" fill="#f23645"/>
<rect x="824.24" y="148.0" width="4.6" height="21.0" fill="#f23645"/>
<rect x="831.98" y="129.0" width="1" height="60.0" fill="#089981"/>
<rect x="830.18" y="136.0" width="4.6" height="33.0" fill="#089981"/>
<rect x="837.92" y="107.5" width="1" height="61.5" fill="#f23645"/>
<rect x="836.12" y="136.0" width="4.6" height="13.0" fill="#f23645"/>
<rect x="843.86" y="119.0" width="1" height="33.0" fill="#089981"/>
<rect x="842.06" y="136.0" width="4.6" height="13.0" fill="#089981"/>
<rect x="849.80" y="96.5" width="1" height="69.0" fill="#089981"/>
<rect x="848.00" y="114.5" width="4.6" height="22.5" fill="#089981"/>
<rect x="855.75" y="111.0" width="1" height="83.0" fill="#f23645"/>
<rect x="853.95" y="114.5" width="4.6" height="65.5" fill="#f23645"/>
<rect x="861.69" y="134.5" width="1" height="72.5" fill="#f23645"/>
<rect x="859.89" y="179.0" width="4.6" height="13.0" fill="#f23645"/>
<rect x="867.63" y="140.5" width="1" height="76.0" fill="#089981"/>
<rect x="865.83" y="159.5" width="4.6" height="32.0" fill="#089981"/>
<rect x="873.57" y="153.5" width="1" height="32.5" fill="#f23645"/>
<rect x="871.77" y="159.5" width="4.6" height="25.0" fill="#f23645"/>
<rect x="879.51" y="182.5" width="1" height="42.5" fill="#f23645"/>
<rect x="877.71" y="183.5" width="4.6" height="23.5" fill="#f23645"/>
<rect x="885.45" y="181.5" width="1" height="42.5" fill="#f23645"/>
<rect x="883.65" y="206.0" width="4.6" height="14.0" fill="#f23645"/>
<rect x="891.39" y="211.0" width="1" height="21.0" fill="#f23645"/>
<rect x="889.59" y="218.0" width="4.6" height="11.5" fill="#f23645"/>
<rect x="897.34" y="215.5" width="1" height="47.0" fill="#f23645"/>
<rect x="895.54" y="228.0" width="4.6" height="34.5" fill="#f23645"/>
<rect x="903.28" y="242.5" width="1" height="68.0" fill="#089981"/>
<rect x="901.48" y="250.0" width="4.6" height="12.5" fill="#089981"/>
<rect x="909.22" y="243.0" width="1" height="52.0" fill="#f23645"/>
<rect x="907.42" y="249.5" width="4.6" height="41.5" fill="#f23645"/>
<rect x="915.16" y="258.5" width="1" height="37.5" fill="#089981"/>
<rect x="913.36" y="283.5" width="4.6" height="7.5" fill="#089981"/>
<rect x="921.10" y="216.5" width="1" height="71.5" fill="#089981"/>
<rect x="919.30" y="229.0" width="4.6" height="55.0" fill="#089981"/>
<rect x="927.04" y="212.0" width="1" height="31.0" fill="#f23645"/>
<rect x="925.24" y="229.0" width="4.6" height="5.5" fill="#f23645"/>
<rect x="932.98" y="229.0" width="1" height="51.5" fill="#f23645"/>
<rect x="931.18" y="233.5" width="4.6" height="46.5" fill="#f23645"/>
<rect x="938.93" y="263.0" width="1" height="101.5" fill="#f23645"/>
<rect x="937.13" y="279.0" width="4.6" height="56.5" fill="#f23645"/>
<rect x="944.87" y="267.0" width="1" height="185.5" fill="#089981"/>
<rect x="943.07" y="290.0" width="4.6" height="45.5" fill="#089981"/>
<rect x="950.81" y="257.5" width="1" height="81.0" fill="#f23645"/>
<rect x="949.01" y="290.0" width="4.6" height="8.5" fill="#f23645"/>
<rect x="956.75" y="281.5" width="1" height="53.0" fill="#f23645"/>
<rect x="954.95" y="297.0" width="4.6" height="36.0" fill="#f23645"/>
<rect x="962.69" y="308.0" width="1" height="53.0" fill="#f23645"/>
<rect x="960.89" y="332.0" width="4.6" height="25.5" fill="#f23645"/>
<rect x="968.63" y="324.5" width="1" height="62.5" fill="#f23645"/>
<rect x="966.83" y="356.5" width="4.6" height="17.0" fill="#f23645"/>
<rect x="974.57" y="363.0" width="1" height="26.5" fill="#089981"/>
<rect x="972.77" y="366.5" width="4.6" height="7.0" fill="#089981"/>
<rect x="980.52" y="350.5" width="1" height="40.5" fill="#f23645"/>
<rect x="978.72" y="366.5" width="4.6" height="9.5" fill="#f23645"/>
<rect x="986.46" y="334.5" width="1" height="52.0" fill="#089981"/>
<rect x="984.66" y="345.5" width="4.6" height="30.5" fill="#089981"/>
<rect x="992.40" y="299.0" width="1" height="49.5" fill="#089981"/>
<rect x="990.60" y="332.0" width="4.6" height="14.5" fill="#089981"/>
<rect x="998.34" y="288.0" width="1" height="76.0" fill="#089981"/>
<rect x="996.54" y="299.0" width="4.6" height="33.0" fill="#089981"/>
<rect x="1004.28" y="289.5" width="1" height="31.5" fill="#f23645"/>
<rect x="1002.48" y="299.0" width="4.6" height="16.0" fill="#f23645"/>
<rect x="1010.22" y="279.0" width="1" height="40.0" fill="#089981"/>
<rect x="1008.42" y="302.5" width="4.6" height="12.5" fill="#089981"/>
<rect x="1016.16" y="297.0" width="1" height="29.0" fill="#f23645"/>
<rect x="1014.36" y="302.0" width="4.6" height="19.0" fill="#f23645"/>
<rect x="1022.11" y="314.0" width="1" height="28.5" fill="#f23645"/>
<rect x="1020.31" y="320.0" width="4.6" height="21.0" fill="#f23645"/>
<rect x="1028.05" y="328.0" width="1" height="27.5" fill="#f23645"/>
<rect x="1026.25" y="340.0" width="4.6" height="6.5" fill="#f23645"/>
<rect x="1033.99" y="344.0" width="1" height="40.0" fill="#f23645"/>
<rect x="1032.19" y="345.5" width="4.6" height="21.0" fill="#f23645"/>
<rect x="1039.93" y="341.0" width="1" height="32.5" fill="#089981"/>
<rect x="1038.13" y="345.5" width="4.6" height="21.0" fill="#089981"/>
<rect x="1045.87" y="312.5" width="1" height="36.5" fill="#089981"/>
<rect x="1044.07" y="316.0" width="4.6" height="30.5" fill="#089981"/>
<rect x="1051.81" y="300.5" width="1" height="45.0" fill="#f23645"/>
<rect x="1050.01" y="316.0" width="4.6" height="24.5" fill="#f23645"/>
<rect x="1057.75" y="315.5" width="1" height="26.0" fill="#089981"/>
<rect x="1055.95" y="320.0" width="4.6" height="21.0" fill="#089981"/>
<rect x="1063.69" y="311.0" width="1" height="26.0" fill="#f23645"/>
<rect x="1061.89" y="320.0" width="4.6" height="6.0" fill="#f23645"/>
<rect x="1069.64" y="316.5" width="1" height="84.0" fill="#f23645"/>
<rect x="1067.84" y="325.5" width="4.6" height="71.5" fill="#f23645"/>
<rect x="1075.58" y="373.0" width="1" height="48.5" fill="#089981"/>
<rect x="1073.78" y="380.0" width="4.6" height="17.0" fill="#089981"/>
<rect x="1081.52" y="362.5" width="1" height="45.0" fill="#f23645"/>
<rect x="1079.72" y="380.0" width="4.6" height="10.0" fill="#f23645"/>
<rect x="1087.46" y="377.5" width="1" height="28.0" fill="#f23645"/>
<rect x="1085.66" y="389.5" width="4.6" height="13.5" fill="#f23645"/>
<rect x="1093.40" y="393.5" width="1" height="43.5" fill="#089981"/>
<rect x="1091.60" y="397.0" width="4.6" height="5.5" fill="#089981"/>
<rect x="1099.34" y="384.0" width="1" height="19.0" fill="#f23645"/>
<rect x="1097.54" y="397.0" width="4.6" height="2.0" fill="#f23645"/>
<rect x="1105.28" y="341.5" width="1" height="59.5" fill="#089981"/>
<rect x="1103.48" y="349.5" width="4.6" height="49.0" fill="#089981"/>
<rect x="1111.23" y="348.0" width="1" height="80.0" fill="#f23645"/>
<rect x="1109.43" y="349.5" width="4.6" height="74.5" fill="#f23645"/>
<rect x="1117.17" y="419.5" width="1" height="51.5" fill="#f23645"/>
<rect x="1115.37" y="424.0" width="4.6" height="12.5" fill="#f23645"/>
<rect x="1123.11" y="414.5" width="1" height="32.0" fill="#089981"/>
<rect x="1121.31" y="422.0" width="4.6" height="14.5" fill="#089981"/>
<rect x="1129.05" y="374.5" width="1" height="53.5" fill="#089981"/>
<rect x="1127.25" y="408.5" width="4.6" height="14.0" fill="#089981"/>
<rect x="1134.99" y="389.0" width="1" height="42.5" fill="#f23645"/>
<rect x="1133.19" y="408.5" width="4.6" height="20.5" fill="#f23645"/>
<rect x="1140.93" y="423.0" width="1" height="20.0" fill="#f23645"/>
<rect x="1139.13" y="428.0" width="4.6" height="14.0" fill="#f23645"/>
<rect x="1146.87" y="436.0" width="1" height="36.0" fill="#f23645"/>
<rect x="1145.07" y="441.0" width="4.6" height="26.0" fill="#f23645"/>
<rect x="1152.82" y="446.0" width="1" height="50.5" fill="#f23645"/>
<rect x="1151.02" y="466.5" width="4.6" height="26.5" fill="#f23645"/>
<rect x="1158.76" y="465.0" width="1" height="44.0" fill="#089981"/>
<rect x="1156.96" y="474.5" width="4.6" height="18.0" fill="#089981"/>
<rect x="1164.70" y="455.0" width="1" height="26.5" fill="#089981"/>
<rect x="1162.90" y="467.0" width="4.6" height="7.5" fill="#089981"/>
<rect x="1170.64" y="459.5" width="1" height="30.0" fill="#f23645"/>
<rect x="1168.84" y="467.0" width="4.6" height="16.0" fill="#f23645"/>
<rect x="1176.58" y="454.5" width="1" height="28.5" fill="#089981"/>
<rect x="1174.78" y="462.0" width="4.6" height="21.0" fill="#089981"/>
<rect x="1182.52" y="449.0" width="1" height="16.5" fill="#089981"/>
<rect x="1180.72" y="458.5" width="4.6" height="4.5" fill="#089981"/>
<rect x="1188.46" y="457.0" width="1" height="20.0" fill="#f23645"/>
<rect x="1186.66" y="458.5" width="4.6" height="16.5" fill="#f23645"/>
<rect x="1194.41" y="454.5" width="1" height="20.5" fill="#089981"/>
<rect x="1192.61" y="455.0" width="4.6" height="20.0" fill="#089981"/>
<rect x="1200.35" y="454.0" width="1" height="20.5" fill="#f23645"/>
<rect x="1198.55" y="455.0" width="4.6" height="12.5" fill="#f23645"/>
<rect x="1206.29" y="440.5" width="1" height="27.5" fill="#089981"/>
<rect x="1204.49" y="442.5" width="4.6" height="25.0" fill="#089981"/>
<rect x="1212.23" y="439.0" width="1" height="20.0" fill="#f23645"/>
<rect x="1210.43" y="442.5" width="4.6" height="15.5" fill="#f23645"/>
<rect x="1218.17" y="455.5" width="1" height="18.0" fill="#f23645"/>
<rect x="1216.37" y="457.0" width="4.6" height="15.0" fill="#f23645"/>
<rect x="1224.11" y="464.0" width="1" height="9.5" fill="#089981"/>
<rect x="1222.31" y="470.5" width="4.6" height="1.5" fill="#089981"/>
<rect x="1230.05" y="465.0" width="1" height="8.5" fill="#089981"/>
<rect x="1228.25" y="466.5" width="4.6" height="4.5" fill="#089981"/>
<rect x="1236.00" y="446.0" width="1" height="23.5" fill="#089981"/>
<rect x="1234.20" y="452.5" width="4.6" height="14.5" fill="#089981"/>
<rect x="1241.94" y="441.5" width="1" height="19.5" fill="#089981"/>
<rect x="1240.14" y="445.0" width="4.6" height="8.0" fill="#089981"/>
<rect x="1247.88" y="419.5" width="1" height="27.0" fill="#089981"/>
<rect x="1246.08" y="424.0" width="4.6" height="21.5" fill="#089981"/>
<rect x="1253.82" y="396.5" width="1" height="28.5" fill="#089981"/>
<rect x="1252.02" y="403.0" width="4.6" height="22.0" fill="#089981"/>
<rect x="1259.76" y="400.5" width="1" height="42.5" fill="#f23645"/>
<rect x="1257.96" y="403.0" width="4.6" height="36.0" fill="#f23645"/>
<rect x="1265.70" y="434.0" width="1" height="38.0" fill="#f23645"/>
<rect x="1263.90" y="439.0" width="4.6" height="25.0" fill="#f23645"/>
<rect x="1271.64" y="445.0" width="1" height="22.0" fill="#089981"/>
<rect x="1269.84" y="458.5" width="4.6" height="6.0" fill="#089981"/>
<rect x="1277.59" y="457.0" width="1" height="23.5" fill="#f23645"/>
<rect x="1275.79" y="458.5" width="4.6" height="11.0" fill="#f23645"/>
<rect x="1283.53" y="435.5" width="1" height="35.5" fill="#089981"/>
<rect x="1281.73" y="451.5" width="4.6" height="18.0" fill="#089981"/>
<rect x="1289.47" y="432.5" width="1" height="38.5" fill="#f23645"/>
<rect x="1287.67" y="451.5" width="4.6" height="13.0" fill="#f23645"/>
<rect x="1295.41" y="447.0" width="1" height="33.5" fill="#f23645"/>
<rect x="1293.61" y="464.0" width="4.6" height="6.5" fill="#f23645"/>
<rect x="1301.35" y="462.5" width="1" height="24.0" fill="#f23645"/>
<rect x="1299.55" y="470.0" width="4.6" height="1.0" fill="#f23645"/>
<rect x="1307.29" y="468.0" width="1" height="12.5" fill="#f23645"/>
<rect x="1305.49" y="471.0" width="4.6" height="5.5" fill="#f23645"/>
<rect x="1313.23" y="475.0" width="1" height="44.0" fill="#f23645"/>
<rect x="1311.43" y="476.0" width="4.6" height="39.5" fill="#f23645"/>
<rect x="1319.18" y="492.0" width="1" height="48.5" fill="#089981"/>
<rect x="1317.38" y="501.5" width="4.6" height="14.0" fill="#089981"/>
<rect x="1325.12" y="491.0" width="1" height="22.5" fill="#f23645"/>
<rect x="1323.32" y="501.5" width="4.6" height="12.0" fill="#f23645"/>
<rect x="1331.06" y="466.5" width="1" height="55.0" fill="#089981"/>
<rect x="1329.26" y="475.0" width="4.6" height="38.5" fill="#089981"/>
<rect x="1337.00" y="474.5" width="1" height="23.0" fill="#f23645"/>
<rect x="1335.20" y="475.0" width="4.6" height="15.5" fill="#f23645"/>
<rect x="1342.94" y="472.0" width="1" height="19.0" fill="#089981"/>
<rect x="1341.14" y="480.0" width="4.6" height="10.5" fill="#089981"/>
<rect x="1348.88" y="452.0" width="1" height="31.0" fill="#089981"/>
<rect x="1347.08" y="459.0" width="4.6" height="21.5" fill="#089981"/>
<rect x="1354.82" y="449.5" width="1" height="28.5" fill="#f23645"/>
<rect x="1353.02" y="459.0" width="4.6" height="15.5" fill="#f23645"/>
<rect x="1360.77" y="458.5" width="1" height="23.0" fill="#f23645"/>
<rect x="1358.97" y="473.5" width="4.6" height="6.5" fill="#f23645"/>
<rect x="1366.71" y="472.0" width="1" height="21.5" fill="#f23645"/>
<rect x="1364.91" y="479.0" width="4.6" height="13.5" fill="#f23645"/>
<rect x="1372.65" y="486.0" width="1" height="15.5" fill="#f23645"/>
<rect x="1370.85" y="492.5" width="4.6" height="5.5" fill="#f23645"/>
<rect x="1378.59" y="482.0" width="1" height="16.5" fill="#089981"/>
<rect x="1376.79" y="488.0" width="4.6" height="10.0" fill="#089981"/>
<rect x="1384.53" y="486.0" width="1" height="5.0" fill="#f23645"/>
<rect x="1382.73" y="488.0" width="4.6" height="1.0" fill="#f23645"/>
<rect x="1390.47" y="481.0" width="1" height="9.0" fill="#089981"/>
<rect x="1388.67" y="484.0" width="4.6" height="5.5" fill="#089981"/>
<rect x="1396.41" y="482.0" width="1" height="11.0" fill="#f23645"/>
<rect x="1394.61" y="484.0" width="4.6" height="7.0" fill="#f23645"/>
<rect x="1402.35" y="467.5" width="1" height="24.0" fill="#089981"/>
<rect x="1400.55" y="479.5" width="4.6" height="10.5" fill="#089981"/>
<rect x="1408.30" y="406.5" width="1" height="76.0" fill="#089981"/>
<rect x="1406.50" y="417.5" width="4.6" height="62.5" fill="#089981"/>
<rect x="1414.24" y="379.0" width="1" height="39.5" fill="#089981"/>
<rect x="1412.44" y="388.5" width="4.6" height="30.0" fill="#089981"/>
<text stroke="#ffffff" x="901" y="530.5" font-size="23" font-weight="bold" font-style="italic" fill="#ffffff" textLength="196" lengthAdjust="spacingAndGlyphs">March 2024 Peak</text>
<g transform="translate(1414.9 576.4)"><circle r="15" fill="#0e0e10"/><circle r="12.8" fill="#131314" stroke="#c44fd6" stroke-width="2"/><path d="M4.5 -7 L-5.6 0.3 L-0.5 0.8 L-4.7 7.4 L5.9 -0.4 L1.3 -0.8 Z" fill="#c44fd6"/></g>
</g>
<g clip-path="url(#cr)">
<rect x="14" y="614" width="1484" height="101.75" fill="#7e57c2" fill-opacity="0.12"/>
<path d="M13.0 614.25 L13.0 614.2 L24.2 614.2 L30.5 614.2 L36.2 614.2 L42.5 614.2 L48.2 614.2 L54.2 614.2 L60.2 614.2 L66.2 614.2 L72.5 614.2 L78.2 614.2 L84.5 614.2 L90.0 614.2 L96.2 614.2 L102.5 614.2 L107.5 614.2 L113.8 614.2 L119.5 612.5 L125.0 597.5 L131.0 586.2 L137.0 577.5 L143.0 580.0 L149.0 576.2 L155.0 577.5 L161.2 582.5 L167.0 590.0 L173.2 603.8 L179.5 602.5 L185.0 600.0 L190.5 593.8 L196.2 592.0 L202.0 597.5 L208.0 590.0 L214.2 614.2 L220.8 614.2 L226.2 614.2 L232.5 614.2 L238.2 603.8 L243.8 610.0 L250.0 614.2 L255.8 614.2 L262.0 614.2 L268.0 605.5 L274.5 600.0 L278.8 610.0 L285.0 614.2 L291.2 614.2 L297.5 614.2 L303.8 614.2 L310.0 614.2 L315.5 614.2 L321.8 614.2 L328.2 614.2 L333.8 614.2 L339.2 614.2 L345.5 614.2 L350.8 614.2 L357.5 614.2 L363.0 614.2 L369.5 614.2 L375.0 614.2 L380.5 614.2 L386.8 614.2 L392.5 614.2 L398.8 614.2 L404.5 614.2 L410.5 614.2 L416.2 614.2 L422.0 614.2 L428.0 614.2 L433.8 606.2 L440.0 596.2 L446.0 587.5 L452.0 595.0 L458.0 585.0 L464.0 580.0 L470.0 578.8 L476.0 581.2 L482.0 582.5 L488.0 586.2 L494.5 592.5 L499.5 612.0 L505.5 608.0 L511.2 614.2 L517.0 614.2 L523.2 614.2 L528.8 614.2 L535.0 614.2 L541.2 614.2 L547.5 614.2 L553.2 614.2 L559.2 614.2 L565.0 614.2 L570.8 614.2 L577.0 614.2 L582.5 614.2 L589.2 602.0 L595.0 603.0 L601.2 601.5 L606.8 604.5 L612.0 614.2 L618.2 614.2 L624.2 614.2 L630.0 613.8 L636.2 609.2 L642.0 614.2 L648.0 614.2 L653.8 614.2 L660.0 614.2 L665.8 614.2 L672.0 614.2 L677.5 614.2 L683.8 614.2 L689.5 614.2 L696.2 614.2 L701.8 614.2 L707.0 614.2 L713.2 614.2 L719.2 614.2 L725.0 614.2 L731.2 614.2 L737.5 614.2 L743.2 614.2 L749.2 614.2 L755.0 614.2 L760.8 614.2 L767.0 614.2 L772.5 614.2 L778.8 614.2 L785.0 614.2 L790.8 614.2 L796.8 614.2 L803.0 614.2 L808.8 614.2 L814.2 614.2 L820.5 614.2 L826.2 614.2 L832.5 614.2 L838.2 614.2 L844.2 614.2 L850.5 614.2 L855.5 614.2 L862.0 614.2 L868.0 614.2 L874.2 614.2 L880.0 614.2 L885.8 614.2 L891.8 614.2 L897.5 614.2 L903.2 614.2 L909.2 614.2 L915.5 614.2 L921.2 614.2 L927.5 614.2 L933.2 614.2 L938.8 614.2 L945.0 614.2 L950.8 614.2 L956.8 614.2 L962.5 614.2 L969.2 614.2 L975.0 614.2 L980.0 614.2 L987.0 614.2 L992.5 614.2 L998.8 614.2 L1004.5 614.2 L1010.8 614.2 L1016.8 614.2 L1023.0 614.2 L1028.8 614.2 L1033.8 614.2 L1040.0 614.2 L1045.8 614.2 L1052.0 614.2 L1058.2 614.2 L1064.2 614.2 L1070.0 614.2 L1075.5 614.2 L1081.8 614.2 L1087.5 614.2 L1093.8 614.2 L1099.2 614.2 L1105.8 614.2 L1111.2 614.2 L1117.0 614.2 L1122.5 614.2 L1128.8 614.2 L1135.0 614.2 L1141.2 614.2 L1147.0 614.2 L1153.0 614.2 L1159.2 614.2 L1165.0 614.2 L1170.8 614.2 L1177.0 614.2 L1182.5 614.2 L1188.8 614.2 L1194.2 614.2 L1200.0 614.2 L1206.2 614.2 L1212.0 614.2 L1218.0 614.2 L1224.2 614.2 L1230.5 614.2 L1236.2 614.2 L1242.5 614.2 L1248.2 614.2 L1254.5 614.2 L1260.0 614.2 L1265.5 614.2 L1271.8 614.2 L1277.5 614.2 L1283.8 614.2 L1289.5 614.2 L1295.5 614.2 L1301.2 614.2 L1307.0 614.2 L1313.2 614.2 L1319.2 614.2 L1325.5 614.2 L1330.8 614.2 L1337.0 614.2 L1343.0 614.2 L1348.8 614.2 L1355.0 614.2 L1360.8 614.2 L1367.0 614.2 L1372.5 614.2 L1378.8 614.2 L1385.0 614.2 L1390.8 614.2 L1396.8 614.2 L1402.0 614.2 L1408.2 614.2 L1414.2 614.2 L1414.2 614.25 Z" fill="url(#og)" />
<path d="M14 614.25H1498" stroke="#868993" stroke-width="1.2" stroke-dasharray="4.5 5.3"/>
<path d="M14 665H1498" stroke="#868993" stroke-width="1.2" stroke-dasharray="4.5 5.3"/>
<path d="M14 715.75H1498" stroke="#868993" stroke-width="1.2" stroke-dasharray="4.5 5.3"/>
<polyline points="13.0,670.0 24.2,683.8 30.5,676.8 36.2,677.0 42.5,671.2 48.2,673.8 54.2,657.5 60.2,647.5 66.2,639.5 72.5,636.2 78.2,648.8 84.5,645.8 90.0,625.0 96.2,628.8 102.5,625.0 107.5,620.8 113.8,631.8 119.5,612.5 125.0,597.5 131.0,586.2 137.0,577.5 143.0,580.0 149.0,576.2 155.0,577.5 161.2,582.5 167.0,590.0 173.2,603.8 179.5,602.5 185.0,600.0 190.5,593.8 196.2,592.0 202.0,597.5 208.0,590.0 214.2,632.0 220.8,621.8 226.2,625.0 232.5,617.5 238.2,603.8 243.8,610.0 250.0,628.0 255.8,635.5 262.0,620.0 268.0,605.5 274.5,600.0 278.8,610.0 285.0,638.0 291.2,636.2 297.5,643.8 303.8,635.8 310.0,643.0 315.5,637.5 321.8,652.0 328.2,660.0 333.8,655.8 339.2,661.2 345.5,680.5 350.8,675.0 357.5,679.5 363.0,677.0 369.5,645.0 375.0,644.2 380.5,657.5 386.8,655.8 392.5,665.0 398.8,661.2 404.5,672.0 410.5,653.8 416.2,630.5 422.0,629.5 428.0,633.0 433.8,606.2 440.0,596.2 446.0,587.5 452.0,595.0 458.0,585.0 464.0,580.0 470.0,578.8 476.0,581.2 482.0,582.5 488.0,586.2 494.5,592.5 499.5,612.0 505.5,608.0 511.2,615.0 517.0,628.8 523.2,632.5 528.8,652.5 535.0,633.8 541.2,639.2 547.5,638.8 553.2,635.8 559.2,636.8 565.0,636.8 570.8,646.2 577.0,625.5 582.5,628.0 589.2,602.0 595.0,603.0 601.2,601.5 606.8,604.5 612.0,643.8 618.2,653.2 624.2,621.8 630.0,613.8 636.2,609.2 642.0,630.5 648.0,619.5 653.8,629.5 660.0,629.2 665.8,648.8 672.0,661.8 677.5,641.2 683.8,651.2 689.5,653.2 696.2,638.8 701.8,644.2 707.0,650.5 713.2,663.8 719.2,670.0 725.0,663.8 731.2,669.2 737.5,665.0 743.2,668.0 749.2,659.2 755.0,655.8 760.8,629.2 767.0,619.5 772.5,623.0 778.8,632.0 785.0,649.2 790.8,644.5 796.8,652.5 803.0,637.5 808.8,645.0 814.2,658.0 820.5,657.5 826.2,666.2 832.5,653.8 838.2,658.8 844.2,653.0 850.5,646.2 855.5,672.0 862.0,676.2 868.0,663.8 874.2,672.5 880.0,680.5 885.8,685.0 891.8,687.5 897.5,698.0 903.2,692.0 909.2,704.2 915.5,700.8 921.2,675.5 927.5,677.0 933.2,692.5 938.8,706.8 945.0,687.5 950.8,689.5 956.8,697.5 962.5,704.2 969.2,708.2 975.0,705.0 980.0,707.5 987.0,693.2 992.5,685.0 998.8,672.0 1004.5,678.0 1010.8,672.5 1016.8,679.5 1023.0,685.8 1028.8,688.2 1033.8,695.5 1040.0,685.0 1045.8,670.0 1052.0,679.5 1058.2,670.5 1064.2,673.0 1070.0,698.0 1075.5,689.5 1081.8,693.0 1087.5,697.5 1093.8,693.8 1099.2,694.2 1105.8,668.8 1111.2,695.0 1117.0,698.8 1122.5,692.5 1128.8,685.0 1135.0,691.2 1141.2,696.8 1147.0,703.8 1153.0,711.8 1159.2,701.2 1165.0,696.2 1170.8,702.5 1177.0,690.5 1182.5,688.0 1188.8,694.2 1194.2,683.0 1200.0,687.5 1206.2,674.2 1212.0,681.2 1218.0,687.0 1224.2,685.8 1230.5,683.8 1236.2,675.0 1242.5,670.5 1248.2,656.2 1254.5,646.2 1260.0,666.8 1265.5,680.0 1271.8,676.8 1277.5,682.0 1283.8,671.2 1289.5,677.5 1295.5,680.5 1301.2,680.8 1307.0,684.2 1313.2,702.5 1319.2,693.0 1325.5,698.8 1330.8,673.0 1337.0,680.0 1343.0,673.0 1348.8,661.8 1355.0,670.0 1360.8,673.2 1367.0,680.0 1372.5,682.5 1378.8,676.8 1385.0,676.2 1390.8,673.0 1396.8,676.8 1402.0,666.8 1408.2,631.2 1414.2,618.8" fill="none" stroke="#8b5cd0" stroke-width="1.5" stroke-linejoin="round" stroke-linecap="round"/>
</g>
<text stroke="#bcbfc8" x="1511.4" y="120.8" font-size="15.7" fill="#bcbfc8" textLength="47" lengthAdjust="spacingAndGlyphs" font-weight="normal">5.0000</text>
<text stroke="#bcbfc8" x="1511.4" y="185.7" font-size="15.7" fill="#bcbfc8" textLength="47" lengthAdjust="spacingAndGlyphs" font-weight="normal">4.5000</text>
<text stroke="#bcbfc8" x="1511.4" y="250.5" font-size="15.7" fill="#bcbfc8" textLength="47" lengthAdjust="spacingAndGlyphs" font-weight="normal">4.0000</text>
<text stroke="#bcbfc8" x="1511.4" y="380.3" font-size="15.7" fill="#bcbfc8" textLength="47" lengthAdjust="spacingAndGlyphs" font-weight="normal">3.0000</text>
<text stroke="#bcbfc8" x="1511.4" y="445.1" font-size="15.7" fill="#bcbfc8" textLength="47" lengthAdjust="spacingAndGlyphs" font-weight="normal">2.5000</text>
<text stroke="#bcbfc8" x="1511.4" y="574.9" font-size="15.7" fill="#bcbfc8" textLength="47" lengthAdjust="spacingAndGlyphs" font-weight="normal">1.5000</text>
<text stroke="#bcbfc8" x="1511.4" y="645.5" font-size="15.7" fill="#bcbfc8" textLength="39.5" lengthAdjust="spacingAndGlyphs" font-weight="normal">60.00</text>
<text stroke="#bcbfc8" x="1511.4" y="696.3" font-size="15.7" fill="#bcbfc8" textLength="39.5" lengthAdjust="spacingAndGlyphs" font-weight="normal">40.00</text>
<text stroke="#bcbfc8" x="1511.4" y="747" font-size="15.7" fill="#bcbfc8" textLength="39.5" lengthAdjust="spacingAndGlyphs" font-weight="normal">20.00</text>
<rect x="1503.5" y="41.5" width="77" height="33" rx="4" fill="#0f0f0f" stroke="#2e313c" stroke-width="1"/>
<text stroke="#e6e6e6" x="1516.3" y="63.4" font-size="15.9" fill="#e6e6e6" textLength="37" lengthAdjust="spacingAndGlyphs">USDT</text>
<path d="M1498.8 297.5H1563a2.3 2.3 0 0 1 2.3 2.3V319.9a2.3 2.3 0 0 1 -2.3 2.3H1498.8Z" fill="#ffffff"/>
<text stroke="#131722" x="1511.4" y="315.4" font-size="15.7" fill="#131722" textLength="47" lengthAdjust="spacingAndGlyphs" font-weight="normal">3.4995</text>
<path d="M1498.8 492.4H1563a2.3 2.3 0 0 1 2.3 2.3V514.2a2.3 2.3 0 0 1 -2.3 2.3H1498.8Z" fill="#ff9800"/>
<text stroke="#131722" x="1511.4" y="509.9" font-size="15.7" fill="#131722" textLength="47" lengthAdjust="spacingAndGlyphs" font-weight="normal">2.0005</text>
<path d="M1498.8 376H1577.2a2.3 2.3 0 0 1 2.3 2.3V416.5a2.3 2.3 0 0 1 -2.3 2.3H1498.8Z" fill="#089981"/>
<text stroke="#ffffff" x="1511.4" y="393.9" font-size="15.7" fill="#ffffff" textLength="47" lengthAdjust="spacingAndGlyphs" font-weight="normal">2.8939</text>
<text stroke="#d0ebe6" x="1511.7" y="412.4" font-size="15.7" fill="#d0ebe6" textLength="61" lengthAdjust="spacingAndGlyphs">12:34:46</text>
<clipPath id="ct"><rect x="14" y="756" width="1571.6" height="40"/></clipPath><g clip-path="url(#ct)">
<text stroke="#bcbfc8" x="11.0" y="781.3" font-size="15.7" fill="#bcbfc8" textLength="27" lengthAdjust="spacingAndGlyphs" font-weight="normal">Sep</text>
<text stroke="#bcbfc8" x="191.0" y="781.3" font-size="15.7" fill="#bcbfc8" textLength="24" lengthAdjust="spacingAndGlyphs" font-weight="normal">Oct</text>
<text stroke="#bcbfc8" x="373.5" y="781.3" font-size="15.7" fill="#bcbfc8" textLength="26" lengthAdjust="spacingAndGlyphs" font-weight="normal">Nov</text>
<text stroke="#bcbfc8" x="552.0" y="781.3" font-size="15.7" fill="#bcbfc8" textLength="26" lengthAdjust="spacingAndGlyphs" font-weight="normal">Dec</text>
<text stroke="#bcbfc8" x="731.0" y="781.3" font-size="15.7" fill="#bcbfc8" textLength="36" lengthAdjust="spacingAndGlyphs" font-weight="bold">2025</text>
<text stroke="#bcbfc8" x="920.5" y="781.3" font-size="15.7" fill="#bcbfc8" textLength="25" lengthAdjust="spacingAndGlyphs" font-weight="normal">Feb</text>
<text stroke="#bcbfc8" x="1086.0" y="781.3" font-size="15.7" fill="#bcbfc8" textLength="26" lengthAdjust="spacingAndGlyphs" font-weight="normal">Mar</text>
<text stroke="#bcbfc8" x="1271.5" y="781.3" font-size="15.7" fill="#bcbfc8" textLength="24" lengthAdjust="spacingAndGlyphs" font-weight="normal">Apr</text>
<text stroke="#bcbfc8" x="1448.0" y="781.3" font-size="15.7" fill="#bcbfc8" textLength="28" lengthAdjust="spacingAndGlyphs" font-weight="normal">May</text>
</g>
<text stroke="#e3e3e3" x="13.5" y="25.7" font-size="16.3" fill="#e3e3e3" textLength="103.4" lengthAdjust="spacingAndGlyphs">AMBCrypto_TA</text>
<text stroke="#e3e3e3" x="122.9" y="25.7" font-size="16.3" fill="#e3e3e3" textLength="66.6" lengthAdjust="spacingAndGlyphs">published</text>
<text stroke="#e3e3e3" x="195.2" y="25.7" font-size="16.3" fill="#e3e3e3" textLength="17.5" lengthAdjust="spacingAndGlyphs">on</text>
<text stroke="#e3e3e3" x="218" y="25.7" font-size="16.3" fill="#e3e3e3" textLength="120.4" lengthAdjust="spacingAndGlyphs">TradingView.com,</text>
<text stroke="#e3e3e3" x="349.8" y="25.7" font-size="16.3" fill="#e3e3e3" textLength="24.2" lengthAdjust="spacingAndGlyphs">Apr</text>
<text stroke="#e3e3e3" x="380.5" y="25.7" font-size="16.3" fill="#e3e3e3" textLength="21.4" lengthAdjust="spacingAndGlyphs">23,</text>
<text stroke="#e3e3e3" x="407.9" y="25.7" font-size="16.3" fill="#e3e3e3" textLength="31.0" lengthAdjust="spacingAndGlyphs">2025</text>
<text stroke="#e3e3e3" x="446" y="25.7" font-size="16.3" fill="#e3e3e3" textLength="37.8" lengthAdjust="spacingAndGlyphs">16:55</text>
<text stroke="#e3e3e3" x="489.8" y="25.7" font-size="16.3" fill="#e3e3e3" textLength="68.4" lengthAdjust="spacingAndGlyphs">UTC+5:30</text>
<text stroke="#d1d4dc" x="24.5" y="62" font-size="15.6" fill="#d1d4dc" textLength="21.0" lengthAdjust="spacingAndGlyphs">SUI</text>
<text stroke="#d1d4dc" x="53.3" y="62" font-size="15.6" fill="#d1d4dc" textLength="6.9" lengthAdjust="spacingAndGlyphs">/</text>
<text stroke="#d1d4dc" x="65.7" y="62" font-size="15.6" fill="#d1d4dc" textLength="62.5" lengthAdjust="spacingAndGlyphs">TetherUS</text>
<text stroke="#d1d4dc" x="146" y="62" font-size="15.6" fill="#d1d4dc" textLength="15.7" lengthAdjust="spacingAndGlyphs">1D</text>
<text stroke="#d1d4dc" x="179.4" y="62" font-size="15.6" fill="#d1d4dc" textLength="60.1" lengthAdjust="spacingAndGlyphs">BINANCE</text>
<circle cx="137.3" cy="57.4" r="1.15" fill="#d1d4dc"/><circle cx="171.2" cy="57.4" r="1.15" fill="#d1d4dc"/>
<text stroke="#d1d4dc" x="250" y="62" font-size="15.6" fill="#d1d4dc" textLength="10.5" lengthAdjust="spacingAndGlyphs">O</text>
<text stroke="#09a388" x="261" y="62" font-size="15.6" fill="#09a388" textLength="47.5" lengthAdjust="spacingAndGlyphs">2.6672</text>
<text stroke="#d1d4dc" x="319" y="62" font-size="15.6" fill="#d1d4dc" textLength="10" lengthAdjust="spacingAndGlyphs">H</text>
<text stroke="#09a388" x="330" y="62" font-size="15.6" fill="#09a388" textLength="46.5" lengthAdjust="spacingAndGlyphs">2.9680</text>
<text stroke="#d1d4dc" x="387.5" y="62" font-size="15.6" fill="#d1d4dc" textLength="7" lengthAdjust="spacingAndGlyphs">L</text>
<text stroke="#09a388" x="395" y="62" font-size="15.6" fill="#09a388" textLength="47" lengthAdjust="spacingAndGlyphs">2.6672</text>
<text stroke="#d1d4dc" x="452.5" y="62" font-size="15.6" fill="#d1d4dc" textLength="9.5" lengthAdjust="spacingAndGlyphs">C</text>
<text stroke="#09a388" x="462.5" y="62" font-size="15.6" fill="#09a388" textLength="47.5" lengthAdjust="spacingAndGlyphs">2.8939</text>
<text stroke="#09a388" x="520" y="62" font-size="15.6" fill="#09a388" textLength="121.5" lengthAdjust="spacingAndGlyphs">+0.2265 (+8.49%)</text>
<text stroke="#d1d4dc" x="24.5" y="85.3" font-size="15.6" fill="#d1d4dc" textLength="27.7" lengthAdjust="spacingAndGlyphs">SMA</text>
<text stroke="#d1d4dc" x="58.5" y="85.3" font-size="15.6" fill="#d1d4dc" textLength="33.5" lengthAdjust="spacingAndGlyphs">(100,</text>
<text stroke="#d1d4dc" x="99.5" y="85.3" font-size="15.6" fill="#d1d4dc" textLength="41.4" lengthAdjust="spacingAndGlyphs">close)</text>
<text stroke="#ff9800" x="151.5" y="85.3" font-size="15.6" fill="#ff9800" textLength="48" lengthAdjust="spacingAndGlyphs">2.9565</text>
<text stroke="#d1d4dc" x="24.5" y="108.3" font-size="15.6" fill="#d1d4dc" textLength="28.8" lengthAdjust="spacingAndGlyphs">EMA</text>
<text stroke="#d1d4dc" x="59.7" y="108.3" font-size="15.6" fill="#d1d4dc" textLength="24.8" lengthAdjust="spacingAndGlyphs">(50,</text>
<text stroke="#d1d4dc" x="92" y="108.3" font-size="15.6" fill="#d1d4dc" textLength="41.4" lengthAdjust="spacingAndGlyphs">close)</text>
<text stroke="#00bcd4" x="144.5" y="108.3" font-size="15.6" fill="#00bcd4" textLength="47" lengthAdjust="spacingAndGlyphs">2.4392</text>
<text stroke="#d1d4dc" x="24.5" y="131.3" font-size="15.6" fill="#d1d4dc" textLength="27.7" lengthAdjust="spacingAndGlyphs">SMA</text>
<text stroke="#d1d4dc" x="58.5" y="131.3" font-size="15.6" fill="#d1d4dc" textLength="33.5" lengthAdjust="spacingAndGlyphs">(200,</text>
<text stroke="#d1d4dc" x="99.5" y="131.3" font-size="15.6" fill="#d1d4dc" textLength="41.4" lengthAdjust="spacingAndGlyphs">close)</text>
<text stroke="#3a3af2" x="151.5" y="131.3" font-size="15.6" fill="#3a3af2" textLength="48" lengthAdjust="spacingAndGlyphs">3.1724</text>
<text stroke="#d1d4dc" x="24.3" y="620.8" font-size="15.6" fill="#d1d4dc" textLength="101.5" lengthAdjust="spacingAndGlyphs">RSI (14, close)</text>
<text stroke="#8b5cd0" x="136" y="620.8" font-size="15.6" fill="#8b5cd0" textLength="39.2" lengthAdjust="spacingAndGlyphs">67.87</text>
<g transform="translate(13.5 807.1) scale(0.72)" fill="#d9d9d9"><path d="M14 22H7V11H0V4h14v18zM28 22h-8l7.5-18h8L28 22z"/><circle cx="20" cy="8" r="4"/></g>
<text stroke="#d9d9d9" x="44.4" y="823.7" font-size="16.7" style="stroke-width:0.5px" fill="#d9d9d9" textLength="94" lengthAdjust="spacingAndGlyphs">TradingView</text>
</g>
</svg></body></html>
